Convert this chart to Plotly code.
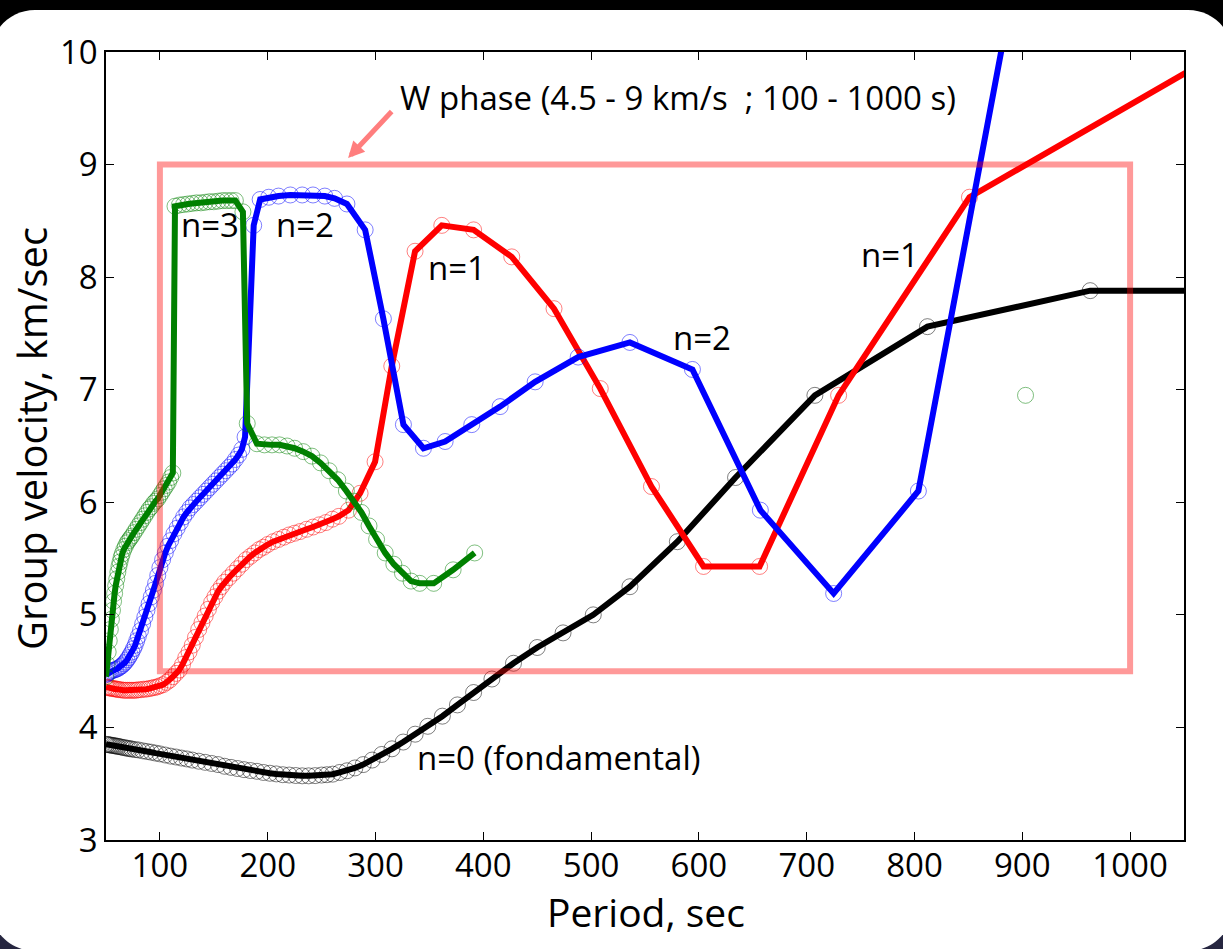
import plotly.graph_objects as go

# ---------------------------------------------------------------------------
# Spheroidal normal-mode branches: period (s) vs group velocity (km/s)
# ---------------------------------------------------------------------------

# n = 0 (fundamental)
period_n0 = [50, 51.5, 53, 54.5, 56, 57.5, 59, 60.5, 62, 64, 66, 68, 70, 72, 74,
             77, 80, 84, 88, 92, 96, 100, 105, 110, 115, 120, 125, 130, 136,
             142, 148, 154, 160, 166, 172, 178, 184, 190, 196, 202, 208, 214,
             220, 226, 232, 238, 244, 250, 255, 260.3, 266.8, 273.6, 280.9,
             288.6, 296.9, 305.8, 315.3, 325.7, 336.8, 348.5, 362, 376, 391,
             408, 428, 450, 474, 502, 536, 580, 634, 707.6, 812, 963, 1190]
vel_n0 = [3.85, 3.848, 3.845, 3.843, 3.84, 3.838, 3.835, 3.833, 3.83, 3.826,
          3.822, 3.818, 3.815, 3.811, 3.808, 3.803, 3.80, 3.792, 3.786, 3.78,
          3.772, 3.765, 3.755, 3.745, 3.737, 3.728, 3.72, 3.71, 3.70, 3.69,
          3.68, 3.67, 3.655, 3.645, 3.635, 3.625, 3.617, 3.61, 3.60, 3.593,
          3.587, 3.58, 3.577, 3.573, 3.57, 3.57, 3.572, 3.577, 3.58, 3.585,
          3.60, 3.615, 3.64, 3.67, 3.71, 3.76, 3.81, 3.87, 3.94, 4.01, 4.10,
          4.20, 4.31, 4.43, 4.57, 4.71, 4.84, 5.00, 5.25, 5.65, 6.22, 6.95,
          7.56, 7.88, 7.88]

# n = 1
period_n1 = [50, 51.5, 53, 54.5, 56, 57.5, 59, 60.5, 62, 64, 66, 68, 70, 72, 74,
             76, 78, 80, 82.5, 85, 87.5, 90, 92.5, 95, 97.5, 100, 103, 106, 109,
             112, 115, 118, 121, 124, 127, 130, 133, 136, 139, 142, 145, 148,
             151, 154, 157, 160, 164, 168, 172, 176, 180, 184, 188, 192, 196,
             200, 205, 210, 215, 220, 225, 230, 236, 242, 248, 254, 260, 266,
             275, 285.7, 299.6, 315.1, 336.7, 361.5, 391, 426.4, 465.6, 508.5,
             556, 604.3, 656.3, 729.6, 851, 1065]
vel_n1 = [4.36, 4.355, 4.35, 4.35, 4.345, 4.345, 4.34, 4.34, 4.335, 4.335, 4.33,
          4.33, 4.33, 4.33, 4.33, 4.33, 4.33, 4.335, 4.335, 4.34, 4.34, 4.345,
          4.35, 4.355, 4.36, 4.37, 4.38, 4.40, 4.42, 4.45, 4.48, 4.51, 4.56,
          4.62, 4.67, 4.73, 4.80, 4.87, 4.93, 4.99, 5.05, 5.11, 5.16, 5.21,
          5.25, 5.29, 5.33, 5.37, 5.41, 5.45, 5.49, 5.52, 5.55, 5.58, 5.60,
          5.625, 5.65, 5.67, 5.69, 5.71, 5.725, 5.74, 5.76, 5.78, 5.80, 5.82,
          5.85, 5.875, 5.93, 6.08, 6.36, 7.21, 8.23, 8.46, 8.42, 8.18, 7.72,
          7.01, 6.14, 5.43, 5.43, 6.95, 8.71, 9.89]

# n = 2
period_n2 = [50, 51.5, 53, 54.5, 56, 57.5, 59, 60.5, 62, 63.5, 65, 66.5, 68,
             69.5, 71, 72.5, 74, 75.5, 77, 78.5, 80, 82, 84, 86, 88, 90, 92, 94,
             96, 98, 100, 102.5, 105, 107.5, 110, 113, 116, 119, 122, 125, 128,
             131, 134, 137, 140, 143, 146, 149, 152, 155, 158, 161, 164, 167,
             170, 173, 176, 179, 187, 193, 201, 210, 221, 232, 242, 253, 262,
             273.5, 290.4, 307.3, 325.9, 344.5, 364.6, 389.3, 415.6, 448.1,
             488, 536, 594, 657, 725, 803.6, 900]
vel_n2 = [4.47, 4.48, 4.49, 4.50, 4.505, 4.51, 4.515, 4.52, 4.53, 4.54, 4.55,
          4.565, 4.58, 4.60, 4.62, 4.645, 4.67, 4.70, 4.73, 4.77, 4.81, 4.86,
          4.92, 4.98, 5.04, 5.10, 5.16, 5.22, 5.28, 5.35, 5.42, 5.49, 5.55,
          5.61, 5.66, 5.72, 5.77, 5.82, 5.87, 5.91, 5.95, 5.98, 6.01, 6.04,
          6.07, 6.10, 6.13, 6.16, 6.19, 6.22, 6.25, 6.28, 6.31, 6.34, 6.38,
          6.42, 6.47, 6.58, 8.46, 8.69, 8.71, 8.72, 8.73, 8.73, 8.73, 8.72,
          8.70, 8.65, 8.42, 7.63, 6.69, 6.48, 6.54, 6.69, 6.85, 7.07, 7.29,
          7.42, 7.18, 5.93, 5.19, 6.10, 11.0]

# n = 3 (isolated long-period mode kept as a separate point)
period_n3 = [50, 51, 52, 53, 54, 55, 56, 57, 58, 59, 60, 61, 62, 63, 64, 65,
             66.5, 68, 69.5, 71, 72.5, 74, 76, 78, 80, 82, 84, 86, 88, 90, 92,
             94, 96, 98, 100, 102, 104, 106, 108, 110, 112, 114, 118, 122, 126,
             130, 134, 138, 142, 146, 150, 154, 158, 162, 166, 170, 177, 181,
             190, 197, 204, 211, 218, 225, 233, 241, 249, 257, 265, 273, 280,
             287, 294, 301, 309, 317, 325, 333, 341, 354, 372, 392, None, 903]
vel_n3 = [4.45, 4.56, 4.67, 4.77, 4.87, 4.96, 5.04, 5.12, 5.19, 5.26, 5.32,
          5.38, 5.43, 5.47, 5.51, 5.54, 5.58, 5.61, 5.64, 5.66, 5.68, 5.70,
          5.73, 5.76, 5.79, 5.82, 5.85, 5.88, 5.91, 5.94, 5.96, 5.99, 6.01,
          6.03, 6.06, 6.09, 6.12, 6.15, 6.18, 6.22, 6.26, 8.63, 8.64, 8.645,
          8.65, 8.655, 8.66, 8.66, 8.665, 8.67, 8.67, 8.675, 8.68, 8.68, 8.68,
          8.68, 8.58, 6.70, 6.52, 6.51, 6.51, 6.51, 6.50, 6.48, 6.45, 6.41,
          6.35, 6.28, 6.20, 6.10, 6.01, 5.91, 5.79, 5.67, 5.55, 5.45, 5.37,
          5.30, 5.28, 5.28, 5.40, 5.55, None, 6.95]

# W-phase window
w_period = [100, 1000]
w_vel = [4.5, 9.0]

x_ticks = [100, 200, 300, 400, 500, 600, 700, 800, 900, 1000]
y_ticks = [3, 4, 5, 6, 7, 8, 9, 10]

branches = [
    (period_n0, vel_n0, "#000000", "rgba(0,0,0,0.5)"),
    (period_n1, vel_n1, "#ff0000", "rgba(255,0,0,0.5)"),
    (period_n2, vel_n2, "#0000ff", "rgba(0,0,255,0.5)"),
    (period_n3, vel_n3, "#008000", "rgba(0,128,0,0.5)"),
]

FONT = "Open Sans"
W, H = 1223, 949
ML, MR, MT, MB = 106, 39, 52, 109
X0, X1, Y0, Y1 = ML, W - MR, MT, H - MB


def paper(px, py):
    """Pixel position on the page -> paper coordinates."""
    return (px - X0) / (X1 - X0), (Y1 - py) / (Y1 - Y0)


def rounded_rect_path(x0, y0, x1, y1, r):
    k = 0.5523 * r
    pts = [
        ("M", [(x0 + r, y0)]),
        ("L", [(x1 - r, y0)]),
        ("C", [(x1 - r + k, y0), (x1, y0 + r - k), (x1, y0 + r)]),
        ("L", [(x1, y1 - r)]),
        ("C", [(x1, y1 - r + k), (x1 - r + k, y1), (x1 - r, y1)]),
        ("L", [(x0 + r, y1)]),
        ("C", [(x0 + r - k, y1), (x0, y1 - r + k), (x0, y1 - r)]),
        ("L", [(x0, y0 + r)]),
        ("C", [(x0, y0 + r - k), (x0 + r - k, y0), (x0 + r, y0)]),
    ]
    out = []
    for cmd, ps in pts:
        coords = " ".join("%.5f,%.5f" % paper(px, py) for px, py in ps)
        out.append(cmd + " " + coords)
    return " ".join(out) + " Z"


fig = go.Figure()

for per, vel, line_col, mark_col in branches:
    fig.add_trace(go.Scatter(
        x=per, y=vel, mode="lines+markers",
        line=dict(color=line_col, width=6),
        marker=dict(symbol="circle-open", size=16, color=mark_col,
                    line=dict(width=1)),
        connectgaps=False, showlegend=False, hoverinfo="skip",
    ))

shapes = []
# dark window frame behind the white rounded panel
bx0, by0 = paper(-20, 700)
bx1, by1 = paper(W + 20, H + 20)
shapes.append(dict(type="rect", xref="paper", yref="paper", x0=bx0, y0=by0,
                   x1=bx1, y1=by1, fillcolor="#262640", line=dict(width=0),
                   layer="below"))
shapes.append(dict(type="path", xref="paper", yref="paper",
                   path=rounded_rect_path(-10, 10, W + 10, 951, 45),
                   fillcolor="white", line=dict(width=0), layer="below"))
# W-phase window box
shapes.append(dict(type="rect", xref="x", yref="y",
                   x0=w_period[0], x1=w_period[1], y0=w_vel[0], y1=w_vel[1],
                   line=dict(color="rgba(255,0,0,0.4)", width=6),
                   fillcolor="rgba(0,0,0,0)", layer="above"))

label_font = dict(family=FONT, size=33, color="black")
annotations = [
    dict(x=146.5, y=8.47, text="n=3"),
    dict(x=234.2, y=8.47, text="n=2"),
    dict(x=375.3, y=8.09, text="n=1"),
    dict(x=603, y=7.46, text="n=2"),
    dict(x=777.5, y=8.2, text="n=1"),
    dict(x=336.7, y=3.73, text="n=0 (fondamental)", xanchor="left"),
    dict(x=321, y=9.6, text="W phase (4.5 - 9 km/s  ; 100 - 1000 s)",
         xanchor="left"),
]
for a in annotations:
    a.setdefault("xanchor", "center")
    a.update(xref="x", yref="y", showarrow=False, yanchor="middle",
             font=label_font)

annotations.append(dict(
    x=274.6, y=9.058, ax=316.3, ay=9.485, xref="x", yref="y",
    axref="x", ayref="y", text="", showarrow=True, arrowhead=2,
    arrowwidth=5, arrowsize=0.65, arrowcolor="rgba(255,0,0,0.5)",
))

# axis titles
tx, ty = paper(646, 911)
annotations.append(dict(x=tx, y=ty, xref="paper", yref="paper",
                        text="Period, sec", showarrow=False,
                        xanchor="center", yanchor="middle",
                        font=dict(family=FONT, size=39, color="black")))
tx, ty = paper(31, 439)
annotations.append(dict(x=tx, y=ty, xref="paper", yref="paper",
                        text="Group velocity, km/sec", showarrow=False,
                        textangle=-90, xanchor="center", yanchor="middle",
                        font=dict(family=FONT, size=40, color="black")))

axis_common = dict(
    showline=True, linecolor="black", linewidth=1.5, mirror="ticks",
    ticks="inside", ticklen=8, tickwidth=1, tickcolor="black",
    showgrid=False, zeroline=False,
    tickfont=dict(family=FONT, size=33, color="black"),
)

fig.update_layout(
    width=W, height=H,
    margin=dict(l=ML, r=MR, t=MT, b=MB, pad=0),
    paper_bgcolor="black", plot_bgcolor="white",
    shapes=shapes, annotations=annotations,
    xaxis=dict(range=[50, 1050], tickvals=x_ticks, ticklabelstandoff=-4,
               **axis_common),
    yaxis=dict(range=[3, 10], tickvals=y_ticks, **axis_common),
)

fig.write_html("out.html")
